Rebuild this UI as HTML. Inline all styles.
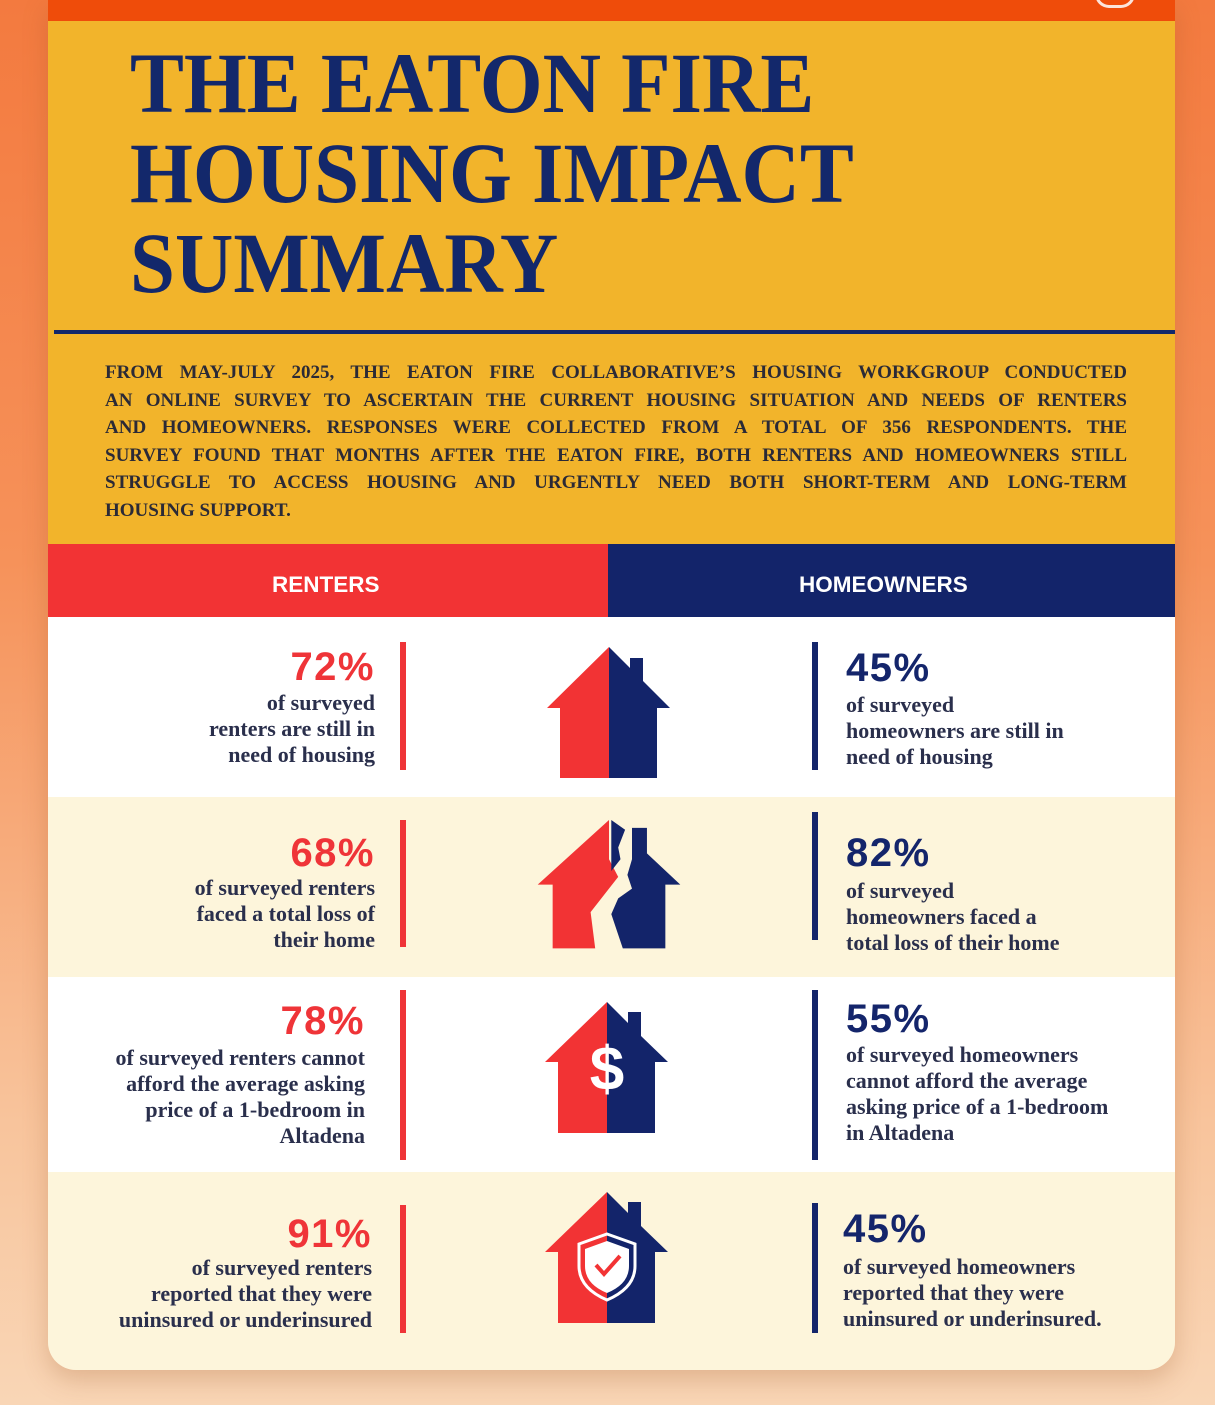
<!DOCTYPE html>
<html><head><meta charset="utf-8"><style>
*{margin:0;padding:0;box-sizing:border-box}
body{width:1215px;height:1405px;overflow:hidden;position:relative;background:linear-gradient(180deg,#f37a3f 0%,#f6925a 40%,#f8c49c 80%,#f9d6b6 100%);font-family:"Liberation Serif",serif}
.a{position:absolute}
.card{left:48px;top:0;width:1127px;height:1370px;border-radius:0 0 28px 28px;overflow:hidden;box-shadow:0 10px 25px rgba(150,80,30,.25)}
.t{font-weight:bold;color:#13286b;font-size:86px;line-height:90px;transform:scaleX(.94);transform-origin:left top;white-space:nowrap;left:130px}
.pl{left:105px;width:1022px;font-weight:bold;color:#2b2a36;font-size:19px;line-height:27.5px;text-align:justify;text-align-last:justify;white-space:nowrap}
.pc{font-family:"Liberation Sans",sans-serif;font-weight:bold;font-size:40px;line-height:38px;letter-spacing:1.5px}
.r{color:#ef3438}.n{color:#14256b}
.b{font-size:22px;line-height:26px;color:#2a2f4c;font-weight:bold;white-space:nowrap}
.L{text-align:right;right:840px}
.R{left:846px}
.hd{font-family:"Liberation Sans",sans-serif;font-weight:bold;color:#fff;font-size:22.5px;top:572px}
</style></head><body>
<div class="a card">
<div class="a" style="left:0;top:0;width:1127px;height:21px;background:#ef4c0a"></div>
<div class="a" style="left:0;top:21px;width:1127px;height:523px;background:#f2b42b"></div>
<div class="a" style="left:6px;top:330px;width:1121px;height:4px;background:#13286b"></div>
<div class="a" style="left:0;top:544px;width:560px;height:73px;background:#f23334"></div>
<div class="a" style="left:560px;top:544px;width:567px;height:73px;background:#13246a"></div>
<div class="a" style="left:0;top:617px;width:1127px;height:180px;background:#fff"></div>
<div class="a" style="left:0;top:797px;width:1127px;height:180px;background:#fdf5db"></div>
<div class="a" style="left:0;top:977px;width:1127px;height:195px;background:#fff"></div>
<div class="a" style="left:0;top:1172px;width:1127px;height:198px;background:#fdf5db"></div>
</div>
<div class="a" style="left:1095px;top:-10px;width:40px;height:18px;border:3px solid #fff;border-top:none;border-radius:0 0 14px 14px;opacity:.85"></div>
<div class="a t" style="top:38px">THE EATON FIRE</div>
<div class="a t" style="top:128px">HOUSING IMPACT</div>
<div class="a t" style="top:218px">SUMMARY</div>
<div class="a pl" style="top:359px">FROM MAY-JULY 2025, THE EATON FIRE COLLABORATIVE’S HOUSING WORKGROUP CONDUCTED</div>
<div class="a pl" style="top:386.5px">AN ONLINE SURVEY TO ASCERTAIN THE CURRENT HOUSING SITUATION AND NEEDS OF RENTERS</div>
<div class="a pl" style="top:414px">AND HOMEOWNERS. RESPONSES WERE COLLECTED FROM A TOTAL OF 356 RESPONDENTS. THE</div>
<div class="a pl" style="top:441.5px">SURVEY FOUND THAT MONTHS AFTER THE EATON FIRE, BOTH RENTERS AND HOMEOWNERS STILL</div>
<div class="a pl" style="top:469px">STRUGGLE TO ACCESS HOUSING AND URGENTLY NEED BOTH SHORT-TERM AND LONG-TERM</div>
<div class="a pl" style="top:496.5px;text-align-last:left">HOUSING SUPPORT.</div>
<div class="a hd" style="left:272px">RENTERS</div>
<div class="a hd" style="left:799px">HOMEOWNERS</div>

<div class="a" style="left:400px;top:642px;width:6px;height:128px;background:#ef3438"></div>
<div class="a" style="left:400px;top:820px;width:6px;height:127px;background:#ef3438"></div>
<div class="a" style="left:400px;top:990px;width:6px;height:170px;background:#ef3438"></div>
<div class="a" style="left:400px;top:1205px;width:6px;height:128px;background:#ef3438"></div>
<div class="a" style="left:812px;top:642px;width:6px;height:128px;background:#14256b"></div>
<div class="a" style="left:812px;top:812px;width:6px;height:128px;background:#14256b"></div>
<div class="a" style="left:812px;top:990px;width:6px;height:170px;background:#14256b"></div>
<div class="a" style="left:812px;top:1203px;width:6px;height:130px;background:#14256b"></div>

<div class="a pc r L" style="top:648px">72%</div>
<div class="a b L" style="top:690px">of surveyed<br>renters are still in<br>need of housing</div>
<div class="a pc r L" style="top:834px">68%</div>
<div class="a b L" style="top:875px">of surveyed renters<br>faced a total loss of<br>their home</div>
<div class="a pc r" style="top:1002px;right:850px;text-align:right">78%</div>
<div class="a b" style="top:1045px;right:850px;text-align:right">of surveyed renters cannot<br>afford the average asking<br>price of a 1-bedroom in<br>Altadena</div>
<div class="a pc r" style="top:1215px;right:843px;text-align:right">91%</div>
<div class="a b" style="top:1255px;right:843px;text-align:right">of surveyed renters<br>reported that they were<br>uninsured or underinsured</div>

<div class="a pc n R" style="top:649px">45%</div>
<div class="a b R" style="top:692px">of surveyed<br>homeowners are still in<br>need of housing</div>
<div class="a pc n R" style="top:834px">82%</div>
<div class="a b R" style="top:878px">of surveyed<br>homeowners faced a<br>total loss of their home</div>
<div class="a pc n R" style="top:1000px">55%</div>
<div class="a b R" style="top:1042px">of surveyed homeowners<br>cannot afford the average<br>asking price of a 1-bedroom<br>in Altadena</div>
<div class="a pc n" style="top:1210px;left:843px">45%</div>
<div class="a b" style="top:1254px;left:843px">of surveyed homeowners<br>reported that they were<br>uninsured or underinsured.</div>

<svg class="a" style="left:0;top:0" width="1215" height="1405">
<g transform="translate(609,647)">
<path d="M0,0 L-62,61 L-49,61 L-49,131 L0,131 Z" fill="#f23334"/>
<path d="M0,0 L21,21 L21,11 L34,11 L34,34 L61,61 L48,61 L48,131 L0,131 Z" fill="#13246a"/>
</g>
<g transform="translate(609,820) scale(1.15,0.98)">
<path d="M0,0 L-62,66 L-49,66 L-49,131 L-12,131 L-16,94 L8,58 L0,40 Z" fill="#f23334"/>
<path d="M2,0 L14,10 L8,28 L10,40 L2,52 Z" fill="#13246a"/>
<path d="M20,8 L33,8 L33,34 L62,66 L49,66 L49,131 L12,131 L2,96 L8,80 L20,70 L16,56 L20,40 Z" fill="#13246a"/>
</g>
<g transform="translate(607,1002)">
<path d="M0,0 L-62,60 L-49,60 L-49,131 L0,131 Z" fill="#f23334"/>
<path d="M0,0 L21,21 L21,10 L34,10 L34,34 L61,60 L48,60 L48,131 L0,131 Z" fill="#13246a"/>
<text x="0" y="88" font-family="Liberation Sans, sans-serif" font-weight="bold" font-size="62" fill="#fff" text-anchor="middle">$</text>
</g>
<g transform="translate(607,1192)">
<path d="M0,0 L-62,60 L-49,60 L-49,131 L0,131 Z" fill="#f23334"/>
<path d="M0,0 L21,21 L21,10 L34,10 L34,34 L61,60 L48,60 L48,131 L0,131 Z" fill="#13246a"/>
<path d="M0,42 L28,52 L28,74 Q28,96 0,108 Q-28,96 -28,74 L-28,52 Z" fill="none" stroke="#fff" stroke-width="3"/>
<path d="M0,49 L22,57 L22,74 Q22,92 0,101 Q-22,92 -22,74 L-22,57 Z" fill="#fff"/>
<path d="M-11,73 L-3,82 L13,64" fill="none" stroke="#f23334" stroke-width="4"/>
</g>
</svg>
</body></html>
